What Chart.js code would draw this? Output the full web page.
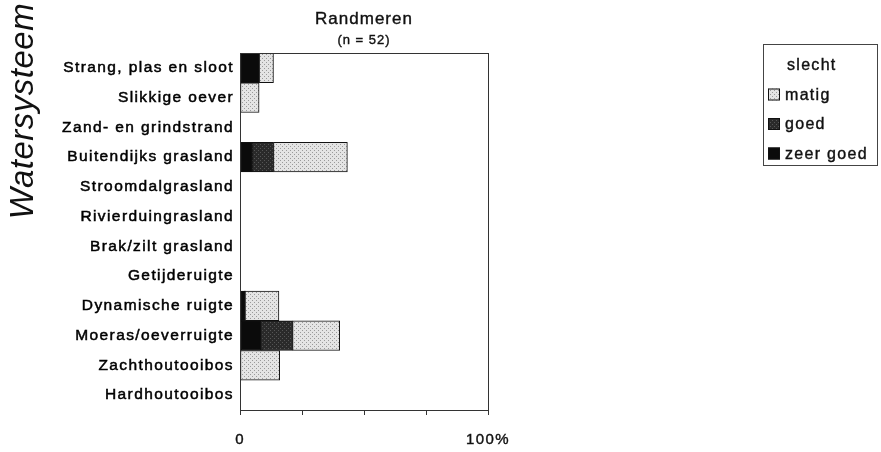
<!DOCTYPE html>
<html>
<head>
<meta charset="utf-8">
<script src="https://cdn.jsdelivr.net/npm/chart.js@4.4.1/dist/chart.umd.min.js"></script>
<style>
  html, body { margin: 0; padding: 0; background: #fff; }
  #wrap { width: 881px; height: 452px; }
</style>
</head>
<body>
<div id="wrap"><canvas id="chart" width="881" height="452"></canvas></div>
<script>
const categories = [
  "Strang, plas en sloot", "Slikkige oever", "Zand- en grindstrand",
  "Buitendijks grasland", "Stroomdalgrasland", "Rivierduingrasland",
  "Brak/zilt grasland", "Getijderuigte", "Dynamische ruigte",
  "Moeras/oeverruigte", "Zachthoutooibos", "Hardhoutooibos"
];
// percent of sites, stacked left to right
const zeerGoed = [7.7, 0, 0, 4.8, 0, 0, 0, 0, 2.0, 8.7, 0, 0];
const goed     = [0, 0, 0, 8.7, 0, 0, 0, 0, 0, 12.5, 0, 0];
const matig    = [5.8, 7.7, 0, 29.8, 0, 0, 0, 0, 13.7, 19.0, 16.0, 0];
const slecht   = [0, 0, 0, 0, 0, 0, 0, 0, 0, 0, 0, 0];
const xTicks = [0, 25, 50, 75, 100];
const legendOrder = ["slecht", "matig", "goed", "zeer goed"];

const FONT = "'Liberation Sans', Arial, sans-serif";

// stippled fills like the old print
function dots(bg, fg) {
  const c = document.createElement("canvas");
  c.width = 4; c.height = 4;
  const g = c.getContext("2d");
  g.fillStyle = bg; g.fillRect(0, 0, 4, 4);
  g.fillStyle = fg; g.fillRect(0, 0, 1, 1); g.fillRect(2, 2, 1, 1);
  return g.createPattern(c, "repeat");
}
const fills = {
  "zeer goed": "#0b0b0b",
  "goed": dots("#2a2a2a", "#555555"),
  "matig": dots("#e4e4e4", "#9a9a9a"),
  "slecht": "#ffffff"
};

const ctx = document.getElementById("chart").getContext("2d");

function heavyText(c, txt, x, y) {
  c.lineWidth = 0.4;
  c.strokeStyle = c.fillStyle;
  c.fillText(txt, x, y);
  c.strokeText(txt, x, y);
}

const decor = {
  id: "decor",
  // the scanned original has wide, loose lettering
  beforeLayout(chart) { chart.ctx.letterSpacing = "1.4px"; },
  beforeDraw(chart) { chart.ctx.letterSpacing = "1.4px"; },
  afterDraw(chart) {
    const c = chart.ctx, a = chart.chartArea;
    c.save();
    // box around plot
    c.strokeStyle = "#333"; c.lineWidth = 1;
    c.strokeRect(a.left + 0.5, a.top + 0.5, a.right - a.left, a.bottom - a.top);
    // titles
    c.fillStyle = "#111"; c.textAlign = "center"; c.textBaseline = "middle";
    c.letterSpacing = "1px";
    c.font = "17px " + FONT;
    heavyText(c, "Randmeren", (a.left + a.right) / 2, 19);
    c.font = "13px " + FONT;
    heavyText(c, "(n = 52)", (a.left + a.right) / 2, 40);
    // axis title
    c.save();
    c.letterSpacing = "0.5px";
    c.translate(24, 111);
    c.rotate(-Math.PI / 2);
    c.font = "italic 33px " + FONT;
    c.fillText("Watersysteem", 0, 0);
    c.restore();
    // legend
    c.strokeStyle = "#444"; c.lineWidth = 1;
    c.strokeRect(763.5, 44.5, 114, 121);
    c.textAlign = "left";
    c.letterSpacing = "1.3px";
    c.font = "16px " + FONT;
    legendOrder.forEach((name, i) => {
      const y = 65 + i * 29.5;
      if (name !== "slecht") {
        c.fillStyle = fills[name];
        c.fillRect(768, y - 6, 12, 12);
        c.strokeStyle = "#111"; c.lineWidth = 1;
        c.strokeRect(768.5, y - 5.5, 11, 11);
      }
      c.fillStyle = "#111";
      heavyText(c, name, 785 + (name === "slecht" ? 2 : 0), y + 1);
    });
    c.restore();
  }
};

function ds(label, data) {
  return {
    label: label,
    data: data,
    backgroundColor: fills[label],
    borderColor: "#111",
    borderWidth: (d) => (d.raw ? 1 : 0),
    borderSkipped: false,
    categoryPercentage: 1,
    barPercentage: 1
  };
}

new Chart(ctx, {
  type: "bar",
  data: {
    labels: categories,
    datasets: [
      ds("zeer goed", zeerGoed),
      ds("goed", goed),
      ds("matig", matig),
      ds("slecht", slecht)
    ]
  },
  options: {
    indexAxis: "y",
    responsive: false,
    animation: false,
    layout: { padding: { left: 0, right: 393, top: 53, bottom: 0 } },
    plugins: { legend: { display: false }, tooltip: { enabled: false } },
    scales: {
      x: {
        stacked: true,
        min: 0, max: 100,
        afterBuildTicks: (s) => { s.ticks = xTicks.map((v) => ({ value: v })); },
        afterFit: (s) => { s.height = 42; },
        grid: { drawOnChartArea: false, drawTicks: true, tickLength: 5, color: "#333" },
        border: { color: "#333" },
        ticks: {
          padding: 16,
          maxRotation: 0,
          color: "#111",
          textStrokeColor: "#111",
          textStrokeWidth: 0.4,
          font: { family: FONT, size: 15 },
          callback: (v) => (v === 0 ? "0" : v === 100 ? "100%" : "")
        }
      },
      y: {
        stacked: true,
        afterFit: (s) => { s.width = 240; },
        grid: { display: false, drawTicks: false },
        border: { color: "#333" },
        ticks: {
          padding: 6,
          color: "#000",
          textStrokeColor: "#000",
          textStrokeWidth: 0.5,
          font: { family: FONT, size: 15.5 }
        }
      }
    }
  },
  plugins: [decor]
});
</script>
</body>
</html>
